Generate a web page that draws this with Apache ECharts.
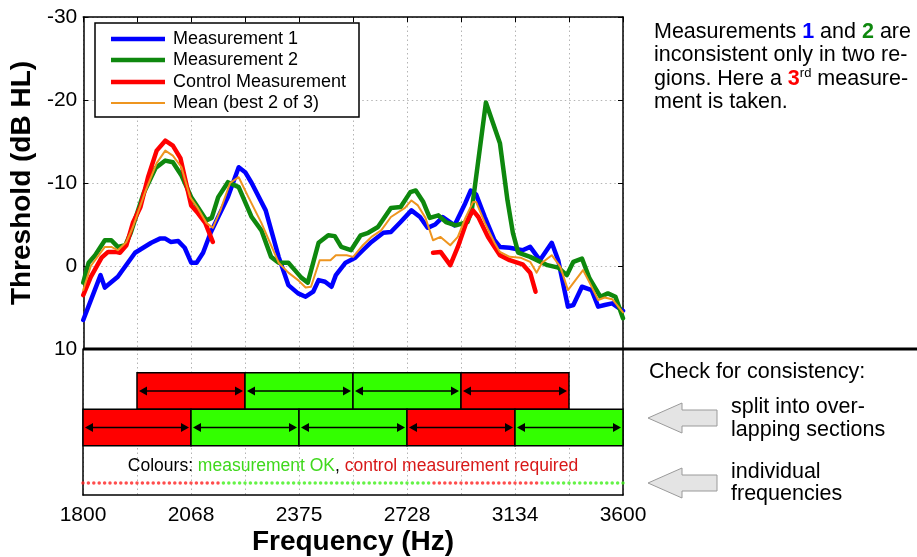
<!DOCTYPE html>
<html>
<head>
<meta charset="utf-8">
<script src="https://cdn.jsdelivr.net/npm/echarts@6/dist/echarts.min.js"></script>
<style>
  html, body { margin: 0; padding: 0; background: #fff; }
  #chart { width: 917px; height: 557px; }
</style>
</head>
<body>
<div id="chart"></div>
<script>
// x positions are in fifth-octave steps above 1800 Hz (0 = 1800, 5 = 3600)
const freqTickLabels = ['1800', '2068', '2375', '2728', '3134', '3600'];

const measurement1 = [
  [0.00, 6.5], [0.16, 1.1], [0.20, 2.6], [0.32, 1.3], [0.48, -1.6], [0.63, -2.8], [0.71, -3.3], [0.76, -3.3],
  [0.81, -2.9], [0.88, -3.0], [0.94, -2.2], [1.00, -0.4], [1.05, -0.4], [1.11, -1.6], [1.18, -4.0], [1.25, -5.9],
  [1.34, -8.3], [1.44, -11.9], [1.50, -11.3], [1.56, -10.0], [1.69, -6.7], [1.81, -1.1], [1.90, 2.3], [1.99, 3.3],
  [2.06, 3.7], [2.13, 3.1], [2.18, 1.7], [2.24, 1.9], [2.30, 2.5], [2.34, 1.1], [2.43, -0.4], [2.52, -1.0],
  [2.59, -1.9], [2.67, -2.9], [2.78, -4.0], [2.85, -4.1], [2.94, -5.3], [3.04, -6.7], [3.12, -5.9], [3.19, -4.6],
  [3.26, -5.0], [3.33, -5.9], [3.44, -4.9], [3.54, -7.6], [3.59, -9.1], [3.64, -8.6], [3.72, -5.9], [3.81, -3.1],
  [3.86, -2.3], [3.95, -2.2], [4.07, -1.9], [4.14, -2.3], [4.23, -0.7], [4.34, -2.8], [4.40, -0.7], [4.49, 4.9],
  [4.54, 4.7], [4.62, 2.5], [4.71, 2.9], [4.77, 4.9], [4.83, 4.7], [4.90, 4.5], [5.00, 5.4]
];
const measurement2 = [
  [0.00, 2.0], [0.05, -0.4], [0.11, -1.3], [0.20, -3.1], [0.26, -3.1], [0.32, -2.3], [0.39, -2.5], [0.44, -4.0],
  [0.56, -8.8], [0.67, -11.8], [0.76, -12.7], [0.83, -12.5], [0.91, -10.9], [1.00, -8.3], [1.06, -7.1], [1.14, -5.5],
  [1.19, -5.8], [1.25, -8.3], [1.34, -10.1], [1.44, -9.5], [1.56, -5.9], [1.65, -4.3], [1.74, -1.1], [1.81, -0.4],
  [1.90, -0.4], [1.96, 0.5], [2.02, 1.4], [2.08, 2.0], [2.18, -2.8], [2.27, -3.7], [2.33, -3.6], [2.39, -2.3],
  [2.48, -1.9], [2.57, -3.7], [2.64, -4.0], [2.73, -4.7], [2.85, -7.0], [2.94, -7.1], [3.03, -8.9], [3.08, -9.1],
  [3.15, -7.7], [3.21, -5.8], [3.29, -6.1], [3.36, -5.3], [3.45, -4.9], [3.56, -5.3], [3.60, -6.8], [3.73, -19.7],
  [3.86, -14.8], [3.93, -7.9], [3.98, -4.0], [4.03, -1.6], [4.14, -1.1], [4.30, -0.1], [4.40, 0.2], [4.48, 1.1],
  [4.54, -0.5], [4.62, -0.9], [4.69, 1.5], [4.79, 3.7], [4.86, 3.3], [4.93, 3.7], [5.00, 6.3]
];
const controlLow = [
  [0.00, 3.5], [0.07, 1.3], [0.17, -1.0], [0.23, -1.7], [0.30, -1.7], [0.34, -1.6], [0.40, -2.5], [0.46, -5.2],
  [0.53, -7.1], [0.60, -10.7], [0.68, -13.9], [0.76, -15.1], [0.83, -14.5], [0.90, -13.0], [0.94, -10.7],
  [1.00, -7.3], [1.06, -6.4], [1.13, -5.2], [1.20, -2.9]
];
const controlHigh = [
  [3.24, -1.6], [3.31, -1.7], [3.40, -0.1], [3.47, -2.3], [3.55, -5.3], [3.61, -6.7], [3.66, -5.9], [3.75, -3.5],
  [3.81, -2.3], [3.86, -1.3], [3.95, -0.7], [4.02, -0.4], [4.07, -0.2], [4.14, 0.8], [4.19, 3.1]
];
const meanBest2 = [
  [0.00, 2.9], [0.07, 0.0], [0.20, -2.3], [0.26, -2.3], [0.32, -1.9], [0.40, -2.9], [0.46, -4.7], [0.57, -8.8],
  [0.68, -12.4], [0.76, -13.9], [0.83, -13.3], [0.91, -11.9], [0.99, -8.3], [1.06, -7.0], [1.14, -5.2], [1.20, -4.6],
  [1.27, -6.7], [1.36, -10.0], [1.44, -10.7], [1.53, -8.3], [1.65, -5.2], [1.81, -0.4], [1.90, 0.8], [1.99, 1.7],
  [2.06, 2.6], [2.11, 2.5], [2.19, -0.7], [2.29, -0.7], [2.34, -1.3], [2.44, -1.3], [2.50, -1.1], [2.59, -2.5],
  [2.67, -3.5], [2.76, -4.3], [2.85, -5.9], [2.98, -7.0], [3.04, -7.9], [3.10, -7.3], [3.17, -5.8], [3.24, -3.1],
  [3.31, -3.5], [3.40, -2.5], [3.47, -3.5], [3.54, -5.8], [3.61, -7.7], [3.64, -7.7], [3.72, -5.2], [3.81, -2.8],
  [3.86, -1.7], [3.95, -1.1], [4.05, -1.0], [4.14, -0.5], [4.20, 0.8], [4.25, -0.4], [4.34, -1.3], [4.42, 0.1],
  [4.49, 2.9], [4.56, 1.7], [4.63, 0.5], [4.69, 2.0], [4.77, 4.1], [4.83, 3.8], [4.90, 4.0], [5.00, 5.6]
];

// overlapping sections: start, end (steps), row (0 = lower, 1 = upper), ok (1 = measurement OK)
const sectionStart = [0.5, 1.5, 2.5, 3.5, 0, 1, 2, 3, 4];
const sectionEnd = [1.5, 2.5, 3.5, 4.5, 1, 2, 3, 4, 5];
const sectionRow = [1, 1, 1, 1, 0, 0, 0, 0, 0];
const sectionOk = [0, 1, 1, 0, 0, 1, 1, 0, 1];

// individual frequencies (every 1/20 step), run lengths of status
const dotRunLengths = [26, 39, 20, 16];
const dotRunOk = [0, 1, 0, 1];

const rowBottom = [1.35, 2.35];
const rowTop = [2.35, 3.35];

const BLUE = '#0000ff', GREEN = '#0e880e', RED = '#ff0000', ORANGE = '#ee951f';
const BAR_GREEN = '#33ff00', BAR_RED = '#ff0000';
const FONT = '"Liberation Sans", Arial, sans-serif';

const sectionData = sectionStart.map((s, i) => [s, sectionEnd[i], sectionRow[i], sectionOk[i]]);

const dotData = [];
let k = 0;
dotRunLengths.forEach((n, r) => {
  for (let j = 0; j < n; j++) {
    dotData.push({value: [k * 0.05, 0.33], itemStyle: {color: dotRunOk[r] ? '#3df018' : '#ff2020'}});
    k++;
  }
});

const dotted = {lineStyle: {color: '#b4b4b4', type: [1.5, 3], width: 1}};
const frame = {onZero: false, lineStyle: {color: '#000', width: 1.5}};
const noLine = {show: false, onZero: false};

const chart = echarts.init(document.getElementById('chart'));

const lineSeries = (name, data, color, width) => ({
  name: name,
  type: 'line',
  xAxisIndex: 0,
  yAxisIndex: 0,
  data: data,
  showSymbol: false,
  symbol: 'none',
  lineStyle: {color: color, width: width, join: 'round', cap: 'round'},
  animation: false
});

const txt = (x, y, text) => ({
  type: 'text', z: 101, x: x, y: y,
  style: {text: text, font: '21.5px ' + FONT, fill: '#000', verticalAlign: 'middle'}
});

chart.setOption({
  animation: false,
  textStyle: {fontFamily: FONT},
  grid: [
    {left: 83, top: 17, width: 540, height: 332},
    {left: 83, top: 349, width: 540, height: 147}
  ],
  xAxis: [
    {gridIndex: 0, type: 'value', min: 0, max: 5, interval: 0.5,
      axisLine: noLine, axisTick: {show: false}, axisLabel: {show: false}, splitLine: dotted},
    {gridIndex: 0, type: 'value', position: 'top', min: 0, max: 5, interval: 0.5,
      axisLine: frame, axisTick: {inside: true, length: 5, lineStyle: {color: '#000'}},
      axisLabel: {show: false}, splitLine: {show: false}},
    {gridIndex: 1, type: 'value', min: 0, max: 5, interval: 0.5,
      axisLine: frame, axisTick: {show: false},
      axisLabel: {
        color: '#000', fontSize: 21, margin: 10, showMinLabel: true, showMaxLabel: true,
        formatter: v => Math.abs(v - Math.round(v)) < 1e-6 ? freqTickLabels[Math.round(v)] : ''
      },
      splitLine: dotted,
      name: 'Frequency (Hz)', nameLocation: 'middle', nameGap: 33,
      nameTextStyle: {color: '#000', fontSize: 28, fontWeight: 'bold', fontFamily: FONT}}
  ],
  yAxis: [
    {gridIndex: 0, type: 'value', inverse: true, min: -30, max: 10, interval: 10,
      axisLine: frame, axisTick: {inside: true, length: 5, lineStyle: {color: '#000'}},
      axisLabel: {color: '#000', fontSize: 21, margin: 6},
      splitLine: dotted,
      name: 'Threshold (dB HL)', nameLocation: 'middle', nameGap: 35, nameRotate: 90,
      nameTextStyle: {color: '#000', fontSize: 28, fontWeight: 'bold', fontFamily: FONT}},
    {gridIndex: 0, type: 'value', position: 'right', inverse: true, min: -30, max: 10, interval: 10,
      axisLine: frame, axisTick: {inside: true, length: 5, lineStyle: {color: '#000'}},
      axisLabel: {show: false}, splitLine: {show: false}},
    {gridIndex: 1, type: 'value', min: 0, max: 4,
      axisLine: frame, axisTick: {show: false}, axisLabel: {show: false}, splitLine: {show: false}},
    {gridIndex: 1, type: 'value', position: 'right', min: 0, max: 4,
      axisLine: frame, axisTick: {show: false}, axisLabel: {show: false}, splitLine: {show: false}}
  ],
  series: [
    lineSeries('Measurement 1', measurement1, BLUE, 4.5),
    lineSeries('Measurement 2', measurement2, GREEN, 4.5),
    lineSeries('Control Measurement', controlLow, RED, 4.5),
    lineSeries('Control Measurement', controlHigh, RED, 4.5),
    lineSeries('Mean (best 2 of 3)', meanBest2, ORANGE, 2),
    {
      type: 'custom',
      xAxisIndex: 2,
      yAxisIndex: 2,
      data: sectionData,
      silent: true,
      renderItem(params, api) {
        const row = api.value(2);
        const p0 = api.coord([api.value(0), rowTop[row]]);
        const p1 = api.coord([api.value(1), rowBottom[row]]);
        const left = p0[0], right = p1[0], top = p0[1], bottom = p1[1];
        const midY = (top + bottom) / 2;
        const head = 8, half = 4.5;
        return {
          type: 'group',
          children: [
            {type: 'rect', shape: {x: left, y: top, width: right - left, height: bottom - top},
              style: {fill: api.value(3) ? BAR_GREEN : BAR_RED, stroke: '#000', lineWidth: 1.5}},
            {type: 'line', shape: {x1: left + 4, y1: midY, x2: right - 4, y2: midY},
              style: {stroke: '#000', lineWidth: 1.5}},
            {type: 'polygon', shape: {points: [[left + 2, midY], [left + 2 + head, midY - half], [left + 2 + head, midY + half]]},
              style: {fill: '#000'}},
            {type: 'polygon', shape: {points: [[right - 2, midY], [right - 2 - head, midY - half], [right - 2 - head, midY + half]]},
              style: {fill: '#000'}}
          ]
        };
      }
    },
    {
      type: 'scatter',
      xAxisIndex: 2,
      yAxisIndex: 2,
      data: dotData,
      symbol: 'circle',
      symbolSize: 3.5,
      silent: true
    }
  ],
  graphic: [
    // thick separator between the panels
    {type: 'line', z: 100, shape: {x1: 83, y1: 349, x2: 917, y2: 349}, style: {stroke: '#000', lineWidth: 3}},
    // legend
    {type: 'rect', z: 100, shape: {x: 95, y: 23, width: 264, height: 94}, style: {fill: '#fff', stroke: '#000', lineWidth: 1.5}},
    {type: 'line', z: 101, shape: {x1: 111, y1: 39, x2: 165, y2: 39}, style: {stroke: BLUE, lineWidth: 4.5}},
    {type: 'line', z: 101, shape: {x1: 111, y1: 60, x2: 165, y2: 60}, style: {stroke: GREEN, lineWidth: 4.5}},
    {type: 'line', z: 101, shape: {x1: 111, y1: 82, x2: 165, y2: 82}, style: {stroke: RED, lineWidth: 4.5}},
    {type: 'line', z: 101, shape: {x1: 111, y1: 103, x2: 165, y2: 103}, style: {stroke: ORANGE, lineWidth: 2}},
    {type: 'text', z: 101, x: 173, y: 39, style: {text: 'Measurement 1', font: '18px ' + FONT, fill: '#000', verticalAlign: 'middle'}},
    {type: 'text', z: 101, x: 173, y: 60, style: {text: 'Measurement 2', font: '18px ' + FONT, fill: '#000', verticalAlign: 'middle'}},
    {type: 'text', z: 101, x: 173, y: 82, style: {text: 'Control Measurement', font: '18px ' + FONT, fill: '#000', verticalAlign: 'middle'}},
    {type: 'text', z: 101, x: 173, y: 103, style: {text: 'Mean (best 2 of 3)', font: '18px ' + FONT, fill: '#000', verticalAlign: 'middle'}},
    // colour explanation in lower panel
    {type: 'text', z: 101, x: 353, y: 466, style: {
      text: '{k|Colours: }{g|measurement OK}{k|, }{r|control measurement required}',
      align: 'center', verticalAlign: 'middle',
      rich: {
        k: {fontSize: 17.5, fontFamily: FONT, fill: '#000'},
        g: {fontSize: 17.5, fontFamily: FONT, fill: '#3fd81c'},
        r: {fontSize: 17.5, fontFamily: FONT, fill: '#d81818'}
      }
    }},
    // right-hand notes
    {type: 'text', z: 101, x: 654, y: 32, style: {
      text: '{n|Measurements }{b|1}{n| and }{g|2}{n| are}', verticalAlign: 'middle',
      rich: {
        n: {fontSize: 21.5, fontFamily: FONT, fill: '#000'},
        b: {fontSize: 21.5, fontFamily: FONT, fill: BLUE, fontWeight: 'bold'},
        g: {fontSize: 21.5, fontFamily: FONT, fill: GREEN, fontWeight: 'bold'}
      }
    }},
    txt(654, 55, 'inconsistent only in two re-'),
    {type: 'text', z: 101, x: 654, y: 79, style: {
      text: '{n|gions. Here a }{r|3}{s|rd}{n| measure-}', verticalAlign: 'middle',
      rich: {
        n: {fontSize: 21.5, fontFamily: FONT, fill: '#000', lineHeight: 24},
        r: {fontSize: 21.5, fontFamily: FONT, fill: RED, fontWeight: 'bold', lineHeight: 24},
        s: {fontSize: 13, fontFamily: FONT, fill: '#000', verticalAlign: 'top', lineHeight: 14}
      }
    }},
    txt(654, 102, 'ment is taken.'),
    txt(649, 372, 'Check for consistency:'),
    {type: 'polygon', z: 101, shape: {points: [[648, 418], [682, 403], [682, 410], [717, 410], [717, 426], [682, 426], [682, 433]]},
      style: {fill: '#e4e4e4', stroke: '#9a9a9a', lineWidth: 1}},
    {type: 'polygon', z: 101, shape: {points: [[648, 483], [682, 468], [682, 475], [717, 475], [717, 491], [682, 491], [682, 498]]},
      style: {fill: '#e4e4e4', stroke: '#9a9a9a', lineWidth: 1}},
    txt(731, 407, 'split into over-'),
    txt(731, 430, 'lapping sections'),
    txt(731, 472, 'individual'),
    txt(731, 494, 'frequencies')
  ]
});
</script>
</body>
</html>
